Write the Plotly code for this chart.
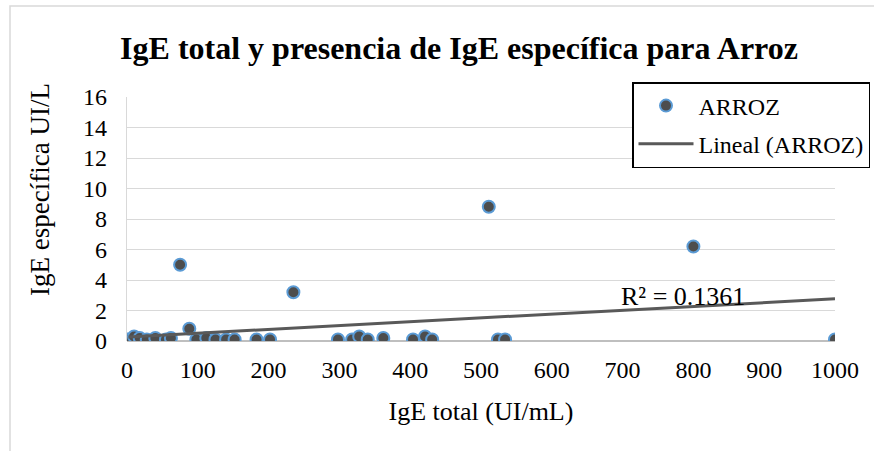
import numpy as np
import plotly.graph_objects as go

# IgE total (UI/mL) and rice-specific IgE (UI/L) per patient
ige_total = [2, 10, 18, 28, 40, 55, 62, 75, 88, 98, 112, 125, 140, 152, 183,
             202, 235, 298, 318, 328, 340, 362, 404, 421, 431, 511, 524, 534,
             800, 1000]
ige_arroz = [0.1, 0.3, 0.2, 0.1, 0.2, 0.1, 0.2, 5.0, 0.8, 0.1, 0.2, 0.1, 0.1,
             0.1, 0.1, 0.1, 3.2, 0.1, 0.1, 0.3, 0.1, 0.2, 0.1, 0.3, 0.1, 8.8,
             0.1, 0.1, 6.2, 0.1]
x_ticks = [0, 100, 200, 300, 400, 500, 600, 700, 800, 900, 1000]
y_ticks = [0, 2, 4, 6, 8, 10, 12, 14, 16]
r2_label = "R² = 0.1361"

# least-squares linear trend over the observed range
slope, intercept = np.polyfit(ige_total, ige_arroz, 1)
trend_x = [min(ige_total), max(ige_total)]
trend_y = [slope * v + intercept for v in trend_x]

W, H = 874, 451
L, R, T, B = 127, 39, 97, 110
pw, ph = W - L - R, H - T - B

def px_x(p):
    return (p - L) / pw

def px_y(p):
    return (H - B - p) / ph

serif = "Liberation Serif"

fig = go.Figure()
fig.add_trace(go.Scatter(
    x=ige_total, y=ige_arroz, mode="markers", name="ARROZ",
    legendgroup="a",
    marker=dict(size=12, color="#4d4d4d", line=dict(color="#5b9bd5", width=2)),
))
fig.add_trace(go.Scatter(
    x=trend_x, y=trend_y, mode="lines", name="Lineal (ARROZ)",
    legendgroup="b",
    line=dict(color="#595959", width=3),
))

fig.add_annotation(
    x=px_x(683), y=px_y(296), xref="paper", yref="paper",
    xanchor="center", yanchor="middle",
    text=r2_label, showarrow=False,
    font=dict(family=serif, size=26, color="#000000"),
)

# vertical axis title
fig.add_annotation(
    x=px_x(40), y=px_y(190), xref="paper", yref="paper",
    xanchor="center", yanchor="middle", textangle=-90,
    text="IgE específica UI/L", showarrow=False,
    font=dict(family=serif, size=27, color="#000000"),
)

# outer chart border
fig.add_shape(type="rect", xref="paper", yref="paper",
              x0=px_x(10), x1=px_x(900), y0=px_y(470), y1=px_y(6),
              line=dict(color="#d9d9d9", width=1.5), layer="below")

fig.update_layout(
    width=W, height=H,
    margin=dict(l=L, r=R, t=T, b=B, autoexpand=False),
    paper_bgcolor="white", plot_bgcolor="white",
    font=dict(family=serif, size=24, color="#000000"),
    title=dict(text="<b>IgE total y presencia de IgE específica para Arroz</b>",
               x=459 / W, xanchor="center",
               y=1 - 48 / H, yanchor="middle",
               font=dict(family=serif, size=32, color="#000000")),
    showlegend=True,
    legend=dict(
        x=px_x(632), y=px_y(82), xanchor="left", yanchor="top",
        bordercolor="#000000", borderwidth=1.5, bgcolor="white",
        font=dict(family=serif, size=24, color="#000000"),
        itemwidth=55, tracegroupgap=4, traceorder="grouped",
    ),
    xaxis=dict(
        range=[0, 1000], tickvals=x_ticks, ticktext=[str(v) for v in x_ticks],
        showgrid=False, zeroline=False, showline=False,
        ticks="", ticklabelstandoff=12, automargin=False,
        tickfont=dict(family=serif, size=24),
        title=dict(text="IgE total (UI/mL)", standoff=19,
                   font=dict(family=serif, size=26)),
        fixedrange=True,
    ),
    yaxis=dict(
        range=[0, 16], tickvals=y_ticks, ticktext=[str(v) for v in y_ticks],
        showgrid=True, gridcolor="#d9d9d9", gridwidth=1.3,
        zeroline=True, zerolinecolor="#bfbfbf", zerolinewidth=1.5,
        showline=True, linecolor="#d9d9d9", linewidth=1.3,
        ticks="", ticklabelstandoff=14, automargin=False,
        tickfont=dict(family=serif, size=24),
        fixedrange=True,
    ),
)

fig.write_html("out.html")
